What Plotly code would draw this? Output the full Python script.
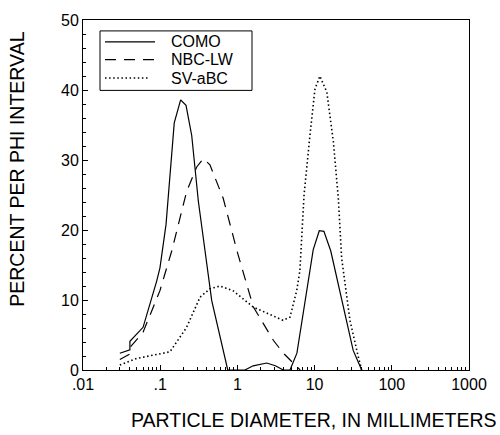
import plotly.graph_objects as go

# ---- data ----
como_x = [0.030, 0.0405, 0.0405, 0.060, 0.090, 0.0993, 0.119, 0.152, 0.184, 0.216, 0.256, 0.312, 0.465, 0.75,
          1.25, 1.6, 2.4, 3.1, 3.94, 4.8, 5.9, 9.6, 11.5, 13.2, 16.2, 31.6, 40.7]
como_y = [2.4, 2.9, 4.1, 6.1, 12.7, 14.6, 20.8, 35.3, 38.6, 37.8, 33.5, 24.1, 9.9, 0.0,
          0.0, 0.6, 1.0, 0.6, 0.0, 0.0, 2.4, 17.2, 19.9, 19.8, 17.0, 2.8, 0.0]

nbc_x = [0.030, 0.0405, 0.0405, 0.060, 0.099, 0.141, 0.22, 0.297, 0.361, 0.441, 0.656, 1.0, 1.61, 2.0, 2.92,
         3.94, 5.9, 6.5]
nbc_y = [1.5, 2.3, 3.2, 5.4, 11.3, 17.0, 25.5, 29.0, 30.2, 29.3, 24.5, 16.8, 9.0, 7.2, 4.25,
         2.4, 0.5, 0.0]

sv_x = [0.030, 0.0497, 0.134, 0.148, 0.22, 0.328, 0.44, 0.596, 0.885, 1.6, 3.2, 3.9, 4.8, 5.3, 5.86, 6.45,
        6.8, 7.3, 8.7, 10.1, 11.7, 14.4, 17.5, 20.3, 22.4, 28.7, 36.8, 40.7]
sv_y = [0.7, 1.65, 2.6, 3.3, 6.1, 10.4, 11.6, 12.0, 11.3, 9.0, 7.6, 7.1, 7.55, 9.4, 11.3, 14.2,
        18.4, 25.0, 33.5, 40.1, 42.0, 39.7, 32.6, 24.5, 16.0, 7.1, 1.9, 0.0]

series_names = ["COMO", "NBC-LW", "SV-aBC"]

x_tickvals = [0.01, 0.1, 1, 10, 100, 1000]
x_ticktext = [".01", ".1", "1", "10", "100", "1000"]
x_minor = [k * 10.0 ** n for n in range(-2, 3) for k in range(2, 10)]

FONT = "Liberation Sans, Arial, sans-serif"
styles = [dict(color="black", width=1.2),
          dict(color="black", width=1.2, dash="11px,8px"),
          dict(color="black", width=1.6, dash="1.5px,2.6px")]

fig = go.Figure()
for name, xs, ys, st in zip(series_names, [como_x, nbc_x, sv_x], [como_y, nbc_y, sv_y], styles):
    fig.add_trace(go.Scatter(x=xs, y=ys, mode="lines", name=name, line=st, showlegend=False))

# ---- legend box drawn in paper coordinates (plot area: 83..469 px, 17..370 px) ----
def px_x(p):
    return (p - 83) / 386.0

def px_y(p):
    return (370 - p) / 353.0

shapes = [dict(type="rect", xref="paper", yref="paper",
               x0=px_x(100), x1=px_x(252), y0=px_y(88), y1=px_y(28),
               line=dict(color="black", width=1), fillcolor="white", layer="above")]
annotations = []
rows = [39, 57, 75.5]
sample_end = [155, 155, 149]
for name, st, ry, xe in zip(series_names, styles, rows, sample_end):
    shapes.append(dict(type="line", xref="paper", yref="paper",
                       x0=px_x(105), x1=px_x(xe), y0=px_y(ry), y1=px_y(ry),
                       line=st, layer="above"))
    annotations.append(dict(text=name, xref="paper", yref="paper", x=px_x(169), y=px_y(ry),
                            xanchor="left", yanchor="middle", showarrow=False,
                            font=dict(size=16, family=FONT)))

annotations += [
    dict(text="PARTICLE DIAMETER, IN MILLIMETERS", xref="paper", yref="paper",
         x=0.598, y=-0.1416, xanchor="center", yanchor="middle", showarrow=False,
         font=dict(size=19.5, family=FONT)),
    dict(text="PERCENT PER PHI INTERVAL", xref="paper", yref="paper",
         x=-0.171, y=0.575, xanchor="center", yanchor="middle", textangle=-90, showarrow=False,
         font=dict(size=19.5, family=FONT)),
]

fig.update_layout(
    width=500, height=435,
    margin=dict(l=83, r=31, t=17, b=65, pad=0),
    paper_bgcolor="white", plot_bgcolor="white",
    font=dict(family=FONT, size=16, color="black"),
    showlegend=False,
    xaxis=dict(type="log", range=[-2, 3], tickmode="array", tickvals=x_tickvals, ticktext=x_ticktext,
               ticks="inside", ticklen=5, tickcolor="black", showgrid=False, zeroline=False,
               showline=True, linecolor="black", linewidth=1, mirror=True,
               minor=dict(tickmode="array", tickvals=x_minor, ticks="inside", ticklen=3,
                          tickcolor="black", showgrid=False)),
    yaxis=dict(range=[0, 50], tickmode="linear", tick0=0, dtick=10,
               ticks="inside", ticklen=5, tickcolor="black", showgrid=False, zeroline=False,
               showline=True, linecolor="black", linewidth=1, mirror=True,
               minor=dict(dtick=2, ticks="inside", ticklen=3, tickcolor="black", showgrid=False)),
    shapes=shapes,
    annotations=annotations,
)

fig.write_html("out.html")
